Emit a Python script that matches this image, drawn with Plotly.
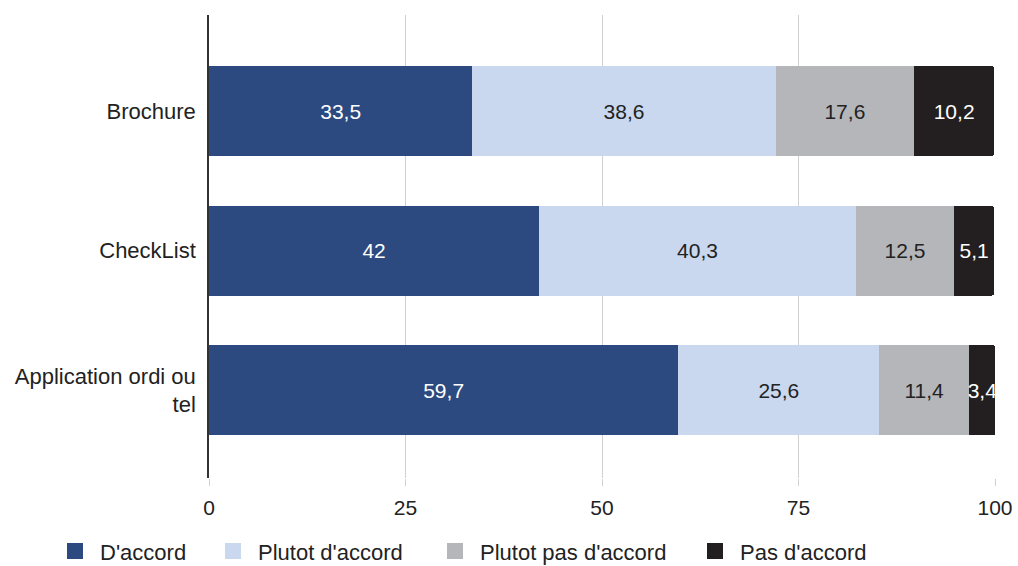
import plotly.graph_objects as go

categories = ["Brochure", "CheckList", "Application ordi ou<br>tel"]
series_names = ["D'accord", "Plutot d'accord", "Plutot pas d'accord", "Pas d'accord"]
d_accord = [33.5, 42, 59.7]
plutot_accord = [38.6, 40.3, 25.6]
plutot_pas = [17.6, 12.5, 11.4]
pas_accord = [10.2, 5.1, 3.4]
x_ticks = [0, 25, 50, 75, 100]

colors = ["#2c4a80", "#c9d8ee", "#b5b6ba", "#231f20"]
text_colors = ["white", "#222222", "#222222", "white"]
FONT = "Liberation Sans, Arial, sans-serif"

W, H = 1018, 566
ML, MR, MT, MB = 209, 23, 15, 88
plot_w = W - ML - MR
legend_left_px = [50, 208, 430, 690]
legend_ids = ["legend", "legend2", "legend3", "legend4"]

fig = go.Figure()
for name, vals, c, tc in zip(series_names, [d_accord, plutot_accord, plutot_pas, pas_accord],
                             colors, text_colors):
    fig.add_trace(go.Bar(
        y=categories, x=vals, name=name, orientation="h",
        marker=dict(color=c, line=dict(width=0)),
        text=[f"{v:g}".replace(".", ",") for v in vals],
        textposition="inside", insidetextanchor="middle", textangle=0,
        constraintext="none",
        textfont=dict(color=tc, size=21, family=FONT),
        showlegend=False, hoverinfo="skip",
    ))

# legend entries with larger square swatches
for name, c, lid in zip(series_names, colors, legend_ids):
    fig.add_trace(go.Scatter(
        x=[None], y=[None], mode="markers", name=name,
        marker=dict(symbol="square", size=20, color=c, line=dict(width=0)),
        legend=lid, showlegend=True,
    ))

legend_layout = {}
for lid, px in zip(legend_ids, legend_left_px):
    legend_layout[lid] = dict(orientation="h", x=(px - ML) / plot_w, xanchor="left",
                              y=-0.113, yanchor="top", font=dict(size=22, family=FONT),
                              itemwidth=40, itemsizing="trace", bgcolor="rgba(0,0,0,0)")

fig.update_layout(
    barmode="stack",
    bargap=0.355,
    barcornerradius=3,
    width=W, height=H,
    margin=dict(l=ML, r=MR, t=MT, b=MB, autoexpand=False),
    plot_bgcolor="white", paper_bgcolor="white",
    font=dict(family=FONT, size=21, color="#222222"),
    uniformtext=dict(minsize=21, mode="show"),
    xaxis=dict(range=[0, 100], tickvals=x_ticks, showgrid=True, gridcolor="#d0d0d0",
               gridwidth=1, zeroline=False, showline=False, ticks="outside",
               ticklen=7, tickcolor="#d0d0d0", tickfont=dict(size=21),
               ticklabelstandoff=4, automargin=False),
    yaxis=dict(autorange=False, range=[2.63, -0.69], showgrid=False, showline=True,
               linecolor="#333333", linewidth=1.5, ticks="", tickfont=dict(size=22),
               ticklabelstandoff=7, automargin=False),
    showlegend=True,
    **legend_layout,
)

fig.write_html("out.html", config={"displayModeBar": False},
               post_script="document.body.style.margin='0';document.body.style.padding='0';")
